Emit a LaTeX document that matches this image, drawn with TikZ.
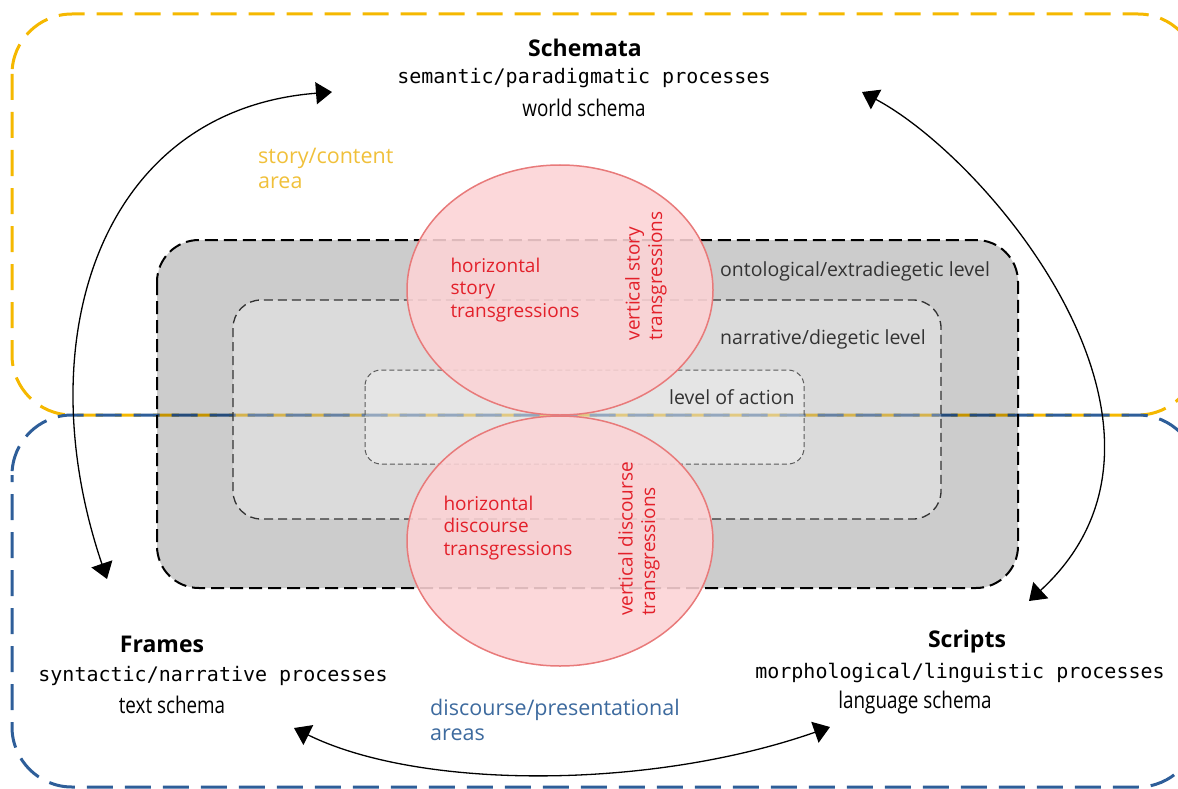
\documentclass[tikz,border=0pt]{standalone}
\usepackage{fontspec}
\setmainfont{Open Sans}
\setmonofont{DejaVu Sans Mono}
\newfontfamily\condensed[FakeStretch=0.82]{Open Sans}
\usetikzlibrary{arrows.meta,shapes.geometric}

\definecolor{storyyellow}{HTML}{F5B800}
\definecolor{discblue}{HTML}{2E5E99}
\definecolor{storylabel}{HTML}{F0C03A}
\definecolor{disclabel}{HTML}{3D6A9E}
\definecolor{ellfill}{HTML}{FCD3D5}
\definecolor{elldraw}{HTML}{E87A7A}
\definecolor{transred}{HTML}{E3202A}
\definecolor{leveltext}{HTML}{333333}

\tikzset{
  area/.style={line width=3pt, dash pattern=on 26pt off 12pt, rounded corners=60pt},
  levelouter/.style={draw=black, line width=2pt, dash pattern=on 13pt off 6pt,
    fill=black, fill opacity=0.2, rounded corners=42pt},
  levelmid/.style={draw=black!80, line width=1.3pt, dash pattern=on 9pt off 5pt,
    fill=white, fill opacity=0.3, rounded corners=28pt},
  levelinner/.style={draw=black!65, line width=1pt, dash pattern=on 5pt off 3pt,
    fill=white, fill opacity=0.3, rounded corners=16pt},
  transellipse/.style={ellipse, draw=elldraw, line width=1.5pt, fill=ellfill,
    fill opacity=0.88, minimum width=306pt, minimum height=250pt, inner sep=0pt},
  transtext/.style={text=transred, align=left, inner sep=0pt,
    font=\fontsize{19pt}{22.5pt}\selectfont},
  leveltxt/.style={text=leveltext, anchor=west, inner sep=0pt,
    font=\fontsize{19.5pt}{22pt}\selectfont},
  arealabel/.style={anchor=west, align=left, inner sep=0pt,
    font=\fontsize{21.5pt}{25pt}\selectfont},
  title/.style={inner sep=0pt, font=\fontsize{23pt}{26pt}\selectfont\bfseries},
  mono/.style={inner sep=0pt, font=\fontsize{20pt}{24pt}\selectfont\ttfamily},
  schema/.style={inner sep=0pt, font=\fontsize{23pt}{26pt}\selectfont\condensed},
  link/.style={line width=1.3pt,
    {Triangle[length=16pt,width=22pt]}-{Triangle[length=16pt,width=22pt]}},
}

\begin{document}
\begin{tikzpicture}[x=1pt, y=-1pt]
\useasboundingbox (0,0) rectangle (1178,789);

% story/content area and discourse/presentational areas
\draw[area, storyyellow] (12,14) rectangle (1198,415);
\draw[area, discblue, dash phase=19pt] (12,415) rectangle (1198,787);

% nested narrative levels
\draw[levelouter] (157,240) rectangle (1018,588);
\draw[levelmid] (233,300) rectangle (941,519);
\draw[levelinner] (365,370) rectangle (804,464);

% transgression ellipses
\node[transellipse] (story) at (560,290) {};
\node[transellipse] (discourse) at (560,541) {};

% ellipse labels
\node[transtext] (hstory) at (515,290) {horizontal\\story\\transgressions};
\node[transtext, rotate=90] (vstory) at (646,276) {vertical story\\transgressions};
\node[transtext] (hdisc) at (508,528) {horizontal\\discourse\\transgressions};
\node[transtext, rotate=90] (vdisc) at (639,539) {vertical discourse\\transgressions};

% level labels
\node[leveltxt] (onto) at (720,271) {ontological/extradiegetic level};
\node[leveltxt] (narr) at (720,339) {narrative/diegetic level};
\node[leveltxt] (action) at (669,397) {level of action};

% area labels
\node[arealabel, text=storylabel] (storyarea) at (258,168) {story/content\\area};
\node[arealabel, text=disclabel] (discarea) at (430,720) {discourse/presentational\\areas};

% schemata
\node[title] (schemata) at (585,48) {Schemata};
\node[mono] (schproc) at (584,78) {semantic/paradigmatic processes};
\node[schema] (schworld) at (584,108) {world schema};

\node[title] (frames) at (162,644) {Frames};
\node[mono] (frproc) at (213,676) {syntactic/narrative processes};
\node[schema] (frtext) at (172,705) {text schema};

\node[title] (scripts) at (967,642) {Scripts};
\node[mono] (scproc) at (960,673) {morphological/linguistic processes};
\node[schema] (sclang) at (915,703) {language schema};

% arrow ends
\coordinate (frUp) at (107,579);
\coordinate (schL) at (332,92);
\coordinate (schR) at (862,92);
\coordinate (scUp) at (1029,601);
\coordinate (frDown) at (294,728);
\coordinate (scDown) at (830,727);

\draw[link] (frUp) .. controls (26,340) and (100,110) .. (schL);
\draw[link] (schR) .. controls (990,160) and (1215,430) .. (scUp);
\draw[link] (frDown) .. controls (420,790) and (650,790) .. (scDown);
\end{tikzpicture}
\end{document}
